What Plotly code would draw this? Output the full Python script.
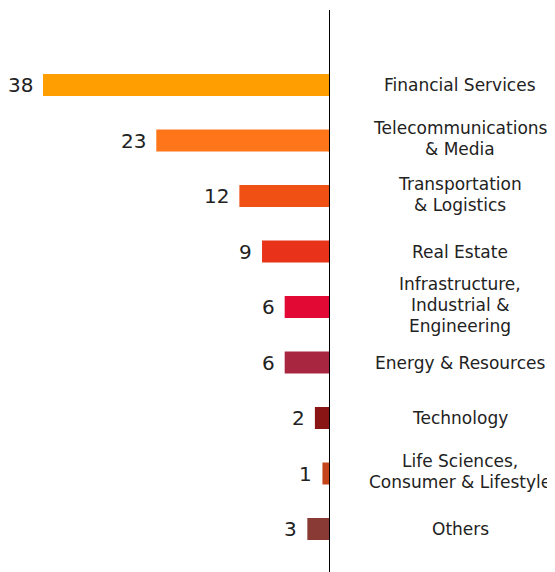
import plotly.graph_objects as go

categories = [
    "Financial Services",
    "Telecommunications<br>& Media",
    "Transportation<br>& Logistics",
    "Real Estate",
    "Infrastructure,<br>Industrial &<br>Engineering",
    "Energy & Resources",
    "Technology",
    "Life Sciences,<br>Consumer & Lifestyle",
    "Others",
]
values = [38, 23, 12, 9, 6, 6, 2, 1, 3]
colors = ["#FF9E00", "#FF751A", "#F05014", "#E8331A", "#E20A34",
          "#A8263F", "#8A1515", "#C4441C", "#8A3A35"]

OFF = 8  # page body margin
W, H = 555 - OFF, 572 - OFF
FONT = "DejaVu Sans"
px_per_unit = 287 / 38.0
axis_x_px = 330 - OFF
row_px = 55.5
first_center_px = 85 - OFF

ys = list(range(len(categories)))

fig = go.Figure()
fig.add_trace(go.Bar(
    x=values, y=ys, orientation="h",
    marker=dict(color=colors, line=dict(width=0)),
    width=22 / row_px,
    hoverinfo="skip",
))

annotations = []
for i, (v, c) in enumerate(zip(values, categories)):
    annotations.append(dict(
        x=v, y=i, xref="x", yref="y", text=str(v), showarrow=False,
        xanchor="right", yanchor="middle", xshift=-8,
        font=dict(family=FONT, size=20, color="#222222"),
    ))
    lines = c.split("<br>")
    n = len(lines)
    for k, line in enumerate(lines):
        annotations.append(dict(
            x=(460 - OFF) / W, y=i, xref="paper", yref="y", text=line, showarrow=False,
            xanchor="center", yanchor="middle",
            yshift=((n - 1) / 2 - k) * 21 + (2 if n > 1 else 0),
            font=dict(family=FONT, size=17, color="#222222"),
        ))

x_max = axis_x_px / px_per_unit
y_top = -first_center_px / row_px
y_bot = (len(categories) - 1) + (H - (first_center_px + (len(categories) - 1) * row_px)) / row_px

fig.update_layout(
    width=W, height=H,
    margin=dict(l=0, r=0, t=0, b=0),
    paper_bgcolor="white", plot_bgcolor="white",
    showlegend=False,
    xaxis=dict(range=[x_max, 0], domain=[0, axis_x_px / W], visible=False, fixedrange=True),
    yaxis=dict(range=[y_bot, y_top], visible=False, fixedrange=True),
    annotations=annotations,
    shapes=[dict(type="line", xref="x", yref="paper", x0=0, x1=0,
                 y0=0, y1=1 - (10 - OFF) / H, line=dict(color="black", width=2))],
)

fig.write_html("out.html")
